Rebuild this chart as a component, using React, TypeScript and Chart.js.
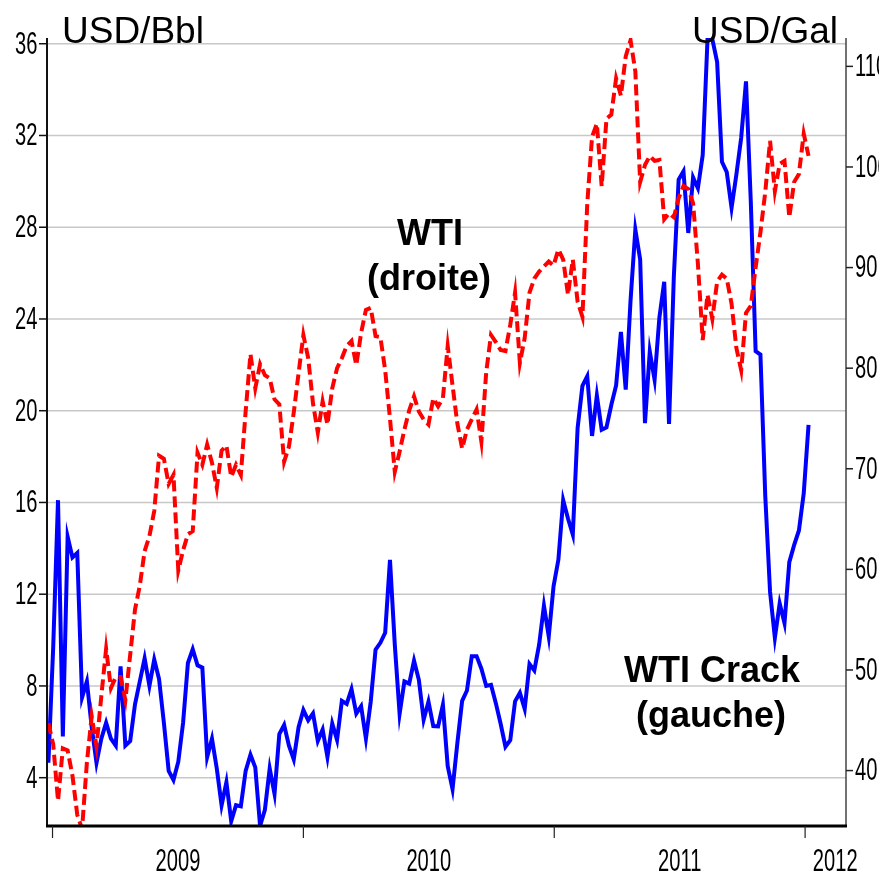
import React, { useEffect, useRef } from 'react';
import { Chart, registerables } from 'chart.js';

Chart.register(...registerables);

// Weekly observations starting on this date (one value per week)
const firstWeek = [2008, 11, 26];

// WTI Crack, USD/Bbl (left axis)
const crack = [
  4.65, 9.7, 16.1, 5.8, 14.5, 13.6, 13.8, 7.5, 8.2, 6.2,
  4.65, 5.7, 6.4, 5.7, 5.4, 8.85, 5.4, 5.6, 7.2, 8.2,
  9.2, 8.0, 9.15, 8.3, 6.4, 4.3, 3.9, 4.7, 6.4, 9.0,
  9.6, 8.9, 8.8, 4.9, 5.7, 4.4, 2.8, 3.8, 2.1, 2.8,
  2.75, 4.3, 5.0, 4.45, 1.9, 2.6, 4.4, 3.3, 5.9, 6.3,
  5.4, 4.8, 6.2, 6.95, 6.5, 6.8, 5.6, 6.1, 4.9, 6.36,
  5.65, 7.35, 7.22, 7.86, 6.8, 7.12, 5.71, 7.32, 9.58, 9.88,
  10.32, 13.5, 9.8, 6.79, 8.2, 8.1, 9.1, 8.27, 6.53, 7.32,
  6.25, 6.24, 7.18, 4.5, 3.5, 5.5, 7.35, 7.8, 9.3, 9.3,
  8.75, 8.0, 8.05, 7.25, 6.35, 5.35, 5.63, 7.33, 7.7, 7.0,
  8.96, 8.68, 9.8, 11.5, 10.16, 12.35, 13.5, 16.1, 15.3, 14.6,
  19.25, 21.08, 21.5, 18.9, 20.66, 19.17, 19.27, 20.25, 21.1, 23.44,
  20.92, 24.8, 27.9, 26.6, 19.46, 22.58, 21.35, 24.07, 25.62, 19.42,
  25.85, 30.08, 30.44, 27.75, 30.17, 29.7, 31.15, 36.2, 36.2, 35.2,
  30.85, 30.4, 28.85, 30.3, 31.9, 34.36, 29.1, 22.6, 22.45, 16.3,
  12.1, 10.1, 11.6, 10.74, 13.4, 14.14, 14.78, 16.4, 19.38,
];

// WTI, right axis
const wti = [
  44.7, 42.6, 37.0, 42.2, 42.0, 39.5, 35.6, 34.2, 40.8, 45.4,
  42.4, 47.4, 52.1, 48.2, 49.3, 49.3, 47.0, 51.5, 56.0, 58.4,
  61.8, 63.3, 65.8, 71.3, 71.0, 68.5, 69.4, 59.9, 61.9, 63.5,
  63.8, 71.6, 70.4, 72.4, 70.6, 68.1, 71.8, 72.3, 69.2, 70.4,
  69.4, 75.7, 81.4, 78.0, 80.4, 79.3, 79.0, 76.9, 76.4, 70.7,
  72.2, 75.6, 79.5, 83.3, 81.0, 76.5, 73.6, 76.7, 74.4, 78.0,
  80.0, 81.0, 82.2, 82.7, 80.3, 83.5, 85.8, 86.0, 83.2, 83.1,
  79.8, 75.0, 69.7, 71.7, 73.9, 75.8, 77.2, 75.7, 74.9, 74.4,
  77.0, 76.2, 77.0, 82.2, 78.3, 74.5, 72.0, 73.9, 74.9, 75.9,
  72.7, 79.6, 83.3, 82.6, 81.8, 81.7, 84.3, 87.5, 80.5, 83.0,
  87.5, 88.9, 89.6, 90.1, 90.6, 90.2, 91.8, 90.8, 87.3, 90.8,
  86.6, 85.1, 96.3, 103.0, 104.3, 98.1, 104.8, 105.2, 108.8, 107.1,
  111.0, 112.6, 109.5, 98.5, 100.2, 101.1, 100.6, 100.7, 94.8, 95.4,
  95.0, 96.9, 98.1, 97.8, 96.4, 90.4, 82.8, 87.3, 84.9, 88.6,
  89.3, 88.9, 86.4, 82.0, 79.8, 85.5, 86.2, 90.0, 93.5, 97.5,
  102.6, 97.6, 100.3, 100.6, 95.0, 98.5, 99.3, 103.3, 101.1,
];

const leftTicks = [4, 8, 12, 16, 20, 24, 28, 32, 36];
const rightTicks = [40, 50, 60, 70, 80, 90, 100, 110];
const yearTicks = [2009, 2010, 2011, 2012];
const yearLabels = ['2009', '2010', '2011', '2012'];
const yearLabelPos = [2009.5, 2010.5, 2011.5, 2012.12];

const leftUnit = 'USD/Bbl';
const rightUnit = 'USD/Gal';
const wtiNote = ['WTI', '(droite)'];
const crackNote = ['WTI Crack', '(gauche)'];

function weekToYear(i: number): number {
  const d = Date.UTC(firstWeek[0], firstWeek[1], firstWeek[2] + 7 * i);
  const y = new Date(d).getUTCFullYear();
  const s = Date.UTC(y, 0, 1);
  const e = Date.UTC(y + 1, 0, 1);
  return y + (d - s) / (e - s);
}

const TICK_FONT = '32px "Liberation Sans Narrow", "Liberation Sans", Arial, sans-serif';

function condensed(ctx: CanvasRenderingContext2D, text: string, x: number, y: number, align: CanvasTextAlign, base: CanvasTextBaseline) {
  ctx.save();
  ctx.font = TICK_FONT;
  const sx = 11.2 / ctx.measureText('0').width;
  ctx.translate(x, y);
  ctx.scale(sx, 1);
  ctx.textAlign = align;
  ctx.textBaseline = base;
  ctx.fillStyle = '#000';
  ctx.fillText(text, 0, 0);
  ctx.restore();
}

const decor = {
  id: 'decor',
  beforeDatasetsDraw(chart: any) {
    const { ctx, chartArea, scales } = chart;
    ctx.save();
    ctx.strokeStyle = '#c8c8c8';
    ctx.lineWidth = 1.5;
    leftTicks.forEach((v) => {
      const y = scales.y.getPixelForValue(v);
      ctx.beginPath();
      ctx.moveTo(chartArea.left, y);
      ctx.lineTo(chartArea.right, y);
      ctx.stroke();
    });
    ctx.restore();
  },
  afterDatasetsDraw(chart: any) {
    const { ctx, chartArea, scales } = chart;
    const { left, right, top, bottom } = chartArea;
    ctx.save();
    // left axis
    ctx.strokeStyle = '#111';
    ctx.lineWidth = 2;
    ctx.beginPath();
    ctx.moveTo(left, top);
    ctx.lineTo(left, bottom);
    ctx.stroke();
    leftTicks.forEach((v) => {
      const y = scales.y.getPixelForValue(v);
      ctx.lineWidth = 1.5;
      ctx.beginPath();
      ctx.moveTo(left - 8, y);
      ctx.lineTo(left, y);
      ctx.stroke();
      condensed(ctx, String(v), left - 9.5, y + 1, 'right', 'middle');
    });
    // right axis
    ctx.strokeStyle = '#444';
    ctx.lineWidth = 1.5;
    ctx.beginPath();
    ctx.moveTo(right, top);
    ctx.lineTo(right, bottom);
    ctx.stroke();
    rightTicks.forEach((v) => {
      const y = scales.y1.getPixelForValue(v);
      ctx.strokeStyle = '#222';
      ctx.beginPath();
      ctx.moveTo(right, y);
      ctx.lineTo(right + 7, y);
      ctx.stroke();
      condensed(ctx, String(v), right + 9, y + 1, 'left', 'middle');
    });
    // bottom axis
    ctx.strokeStyle = '#000';
    ctx.lineWidth = 3;
    ctx.beginPath();
    ctx.moveTo(left - 1, bottom);
    ctx.lineTo(right + 1, bottom);
    ctx.stroke();
    ctx.lineWidth = 1.2;
    ctx.strokeStyle = '#222';
    yearTicks.forEach((v) => {
      const x = scales.x.getPixelForValue(v);
      ctx.beginPath();
      ctx.moveTo(x, bottom);
      ctx.lineTo(x, bottom + 12);
      ctx.stroke();
    });
    yearLabels.forEach((t, k) => {
      const x = scales.x.getPixelForValue(yearLabelPos[k]);
      condensed(ctx, t, x, 871, 'center', 'alphabetic');
    });
    // unit captions
    ctx.fillStyle = '#000';
    ctx.textBaseline = 'alphabetic';
    ctx.font = '37px "Liberation Sans", Arial, sans-serif';
    ctx.textAlign = 'left';
    ctx.fillText(leftUnit, 62, 43);
    ctx.textAlign = 'right';
    ctx.fillText(rightUnit, 838, 43);
    // series notes
    ctx.font = 'bold 36px "Liberation Sans", Arial, sans-serif';
    ctx.textAlign = 'center';
    ctx.fillText(wtiNote[0], 430, 245);
    ctx.fillText(wtiNote[1], 429, 290);
    ctx.fillText(crackNote[0], 712, 682);
    ctx.fillText(crackNote[1], 711, 727);
    ctx.restore();
  },
};

export default function App() {
  const ref = useRef<HTMLCanvasElement | null>(null);
  useEffect(() => {
    if (!ref.current) return;
    const crackPts = crack.map((v, i) => ({ x: weekToYear(i), y: v }));
    const wtiPts = wti.map((v, i) => ({ x: weekToYear(i), y: v }));
    const chart = new Chart(ref.current, {
      type: 'line',
      data: {
        datasets: [
          {
            label: 'WTI (droite)',
            data: wtiPts,
            yAxisID: 'y1',
            borderColor: '#ff0000',
            borderWidth: 4,
            borderDash: [11, 5],
            pointRadius: 0,
            tension: 0,
            fill: false,
            order: 0,
          },
          {
            label: 'WTI Crack (gauche)',
            data: crackPts,
            yAxisID: 'y',
            borderColor: '#0000ff',
            borderWidth: 4,
            pointRadius: 0,
            tension: 0,
            fill: false,
            order: 1,
          },
        ],
      },
      options: {
        animation: false,
        responsive: false,
        devicePixelRatio: 1,
        layout: { padding: { top: 38, left: 0, right: 0, bottom: 0 } },
        plugins: { legend: { display: false }, tooltip: { enabled: false }, title: { display: false } },
        scales: {
          x: {
            type: 'linear',
            position: 'bottom',
            min: 2008.978,
            max: 2012.163,
            grid: { display: false },
            border: { display: false },
            ticks: { display: false },
            afterFit: (s: any) => { s.height = 47; },
          },
          y: {
            type: 'linear',
            position: 'left',
            min: 1.894,
            max: 36.25,
            grid: { display: false },
            border: { display: false },
            ticks: { display: false },
            afterFit: (s: any) => { s.width = 47; },
          },
          y1: {
            type: 'linear',
            position: 'right',
            min: 34.49,
            max: 112.82,
            grid: { display: false },
            border: { display: false },
            ticks: { display: false },
            afterFit: (s: any) => { s.width = 33; },
          },
        },
      } as any,
      plugins: [decor],
    });
    return () => chart.destroy();
  }, []);
  return (
    <div style={{ position: 'fixed', left: 0, top: 0, width: 879, height: 873, background: '#fff' }}>
      <canvas ref={ref} width={879} height={873} style={{ display: 'block' }} />
    </div>
  );
}
